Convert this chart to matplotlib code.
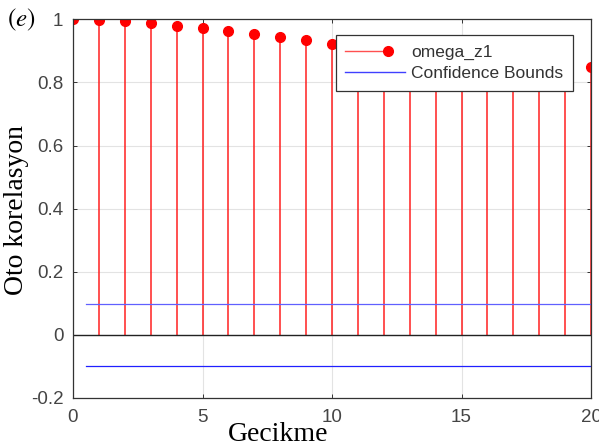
import numpy as np
import matplotlib
matplotlib.use("Agg")
from matplotlib import pyplot as plt
from matplotlib.lines import Line2D
from matplotlib.legend_handler import HandlerBase
from matplotlib.ticker import FormatStrFormatter

# lag values and autocorrelation of omega_z1 (11-19 hidden behind legend, estimated)
lags = np.arange(0, 21)
acf = [1.000, 0.997, 0.994, 0.987, 0.979, 0.971, 0.963, 0.953, 0.944, 0.933,
       0.923, 0.913, 0.904, 0.896, 0.888, 0.880, 0.873, 0.866, 0.860, 0.855, 0.850]
conf_bound = 0.099
bound_x = [0.5, 20]

xticks = [0, 5, 10, 15, 20]
yticks = [-0.2, 0, 0.2, 0.4, 0.6, 0.8, 1]

plt.rcParams['mathtext.fontset'] = 'stix'

fig = plt.figure(figsize=(5.99, 4.48), dpi=100)
ax = fig.add_axes([73/599, 1-398/448, (591-73)/599, (398-19.3)/448])

ml, sl, bl = ax.stem(lags, acf, linefmt='r-', markerfmt='ro', basefmt='k-')
plt.setp(sl, linewidth=1.1, color='#ff2020')
plt.setp(ml, markersize=7, color='red')
plt.setp(bl, linewidth=1.0, color='#222222')

ax.plot(bound_x, [conf_bound, conf_bound], color='#6060ff', lw=0.9)
ax.plot(bound_x, [-conf_bound, -conf_bound], color='#2020ff', lw=0.9)

ax.set_xlim(0, 20)
ax.set_ylim(-0.2, 1)
ax.set_xticks(xticks)
ax.set_yticks(yticks)
ax.yaxis.set_major_formatter(FormatStrFormatter('%g'))
ax.grid(True, color='#e3e3e3', lw=0.8)
ax.set_axisbelow(True)
ax.tick_params(direction='in', length=3, width=0.7, colors='#333333',
               labelsize=13.5, labelcolor='#444444', top=True, right=True)
for lab in ax.get_xticklabels() + ax.get_yticklabels():
    lab.set_family('Liberation Sans')
ax.tick_params(axis='x', pad=8)
ax.tick_params(axis='y', pad=7)
for s in ax.spines.values():
    s.set_color('#333333')
    s.set_linewidth(0.9)


class StemHandler(HandlerBase):
    def create_artists(self, legend, orig, xdescent, ydescent, width, height, fontsize, trans):
        y = height / 2 - ydescent
        x0 = -xdescent
        x1 = x0 + width * 0.72
        line = Line2D([x0, x1], [y, y], color='#ff5050', lw=1.0, transform=trans)
        dot = Line2D([x1], [y], marker='o', color='red', ms=7, ls='none', transform=trans)
        return [line, dot]


h_stem = Line2D([], [], color='red')
h_conf = Line2D([], [], color='#4040ff', lw=1.0)
leg = fig.legend([h_stem, h_conf], ['omega_z1', 'Confidence Bounds'],
                 handler_map={h_stem: StemHandler()},
                 loc='upper right', bbox_to_anchor=(573/599, 1-35/448),
                 bbox_transform=fig.transFigure, borderaxespad=0,
                 fancybox=False, framealpha=1, edgecolor='#333333',
                 prop={'family': 'Liberation Sans', 'size': 12.5},
                 handlelength=3.45, handletextpad=0.35, labelspacing=0.35,
                 borderpad=0.55, labelcolor='#333333')
leg.get_frame().set_linewidth(0.9)

fig.text(278/599, 1-441/448, 'Gecikme', family='Liberation Serif', fontsize=20,
         ha='center', va='baseline')
fig.text(17/599, 1-210/448, 'Oto korelasyon', family='Liberation Serif', fontsize=20,
         rotation=90, ha='center', va='center')
fig.text(7/599, 1-20/448, '$(e)$', fontsize=18, ha='left', va='center')

fig.savefig('out.png', dpi=100)
